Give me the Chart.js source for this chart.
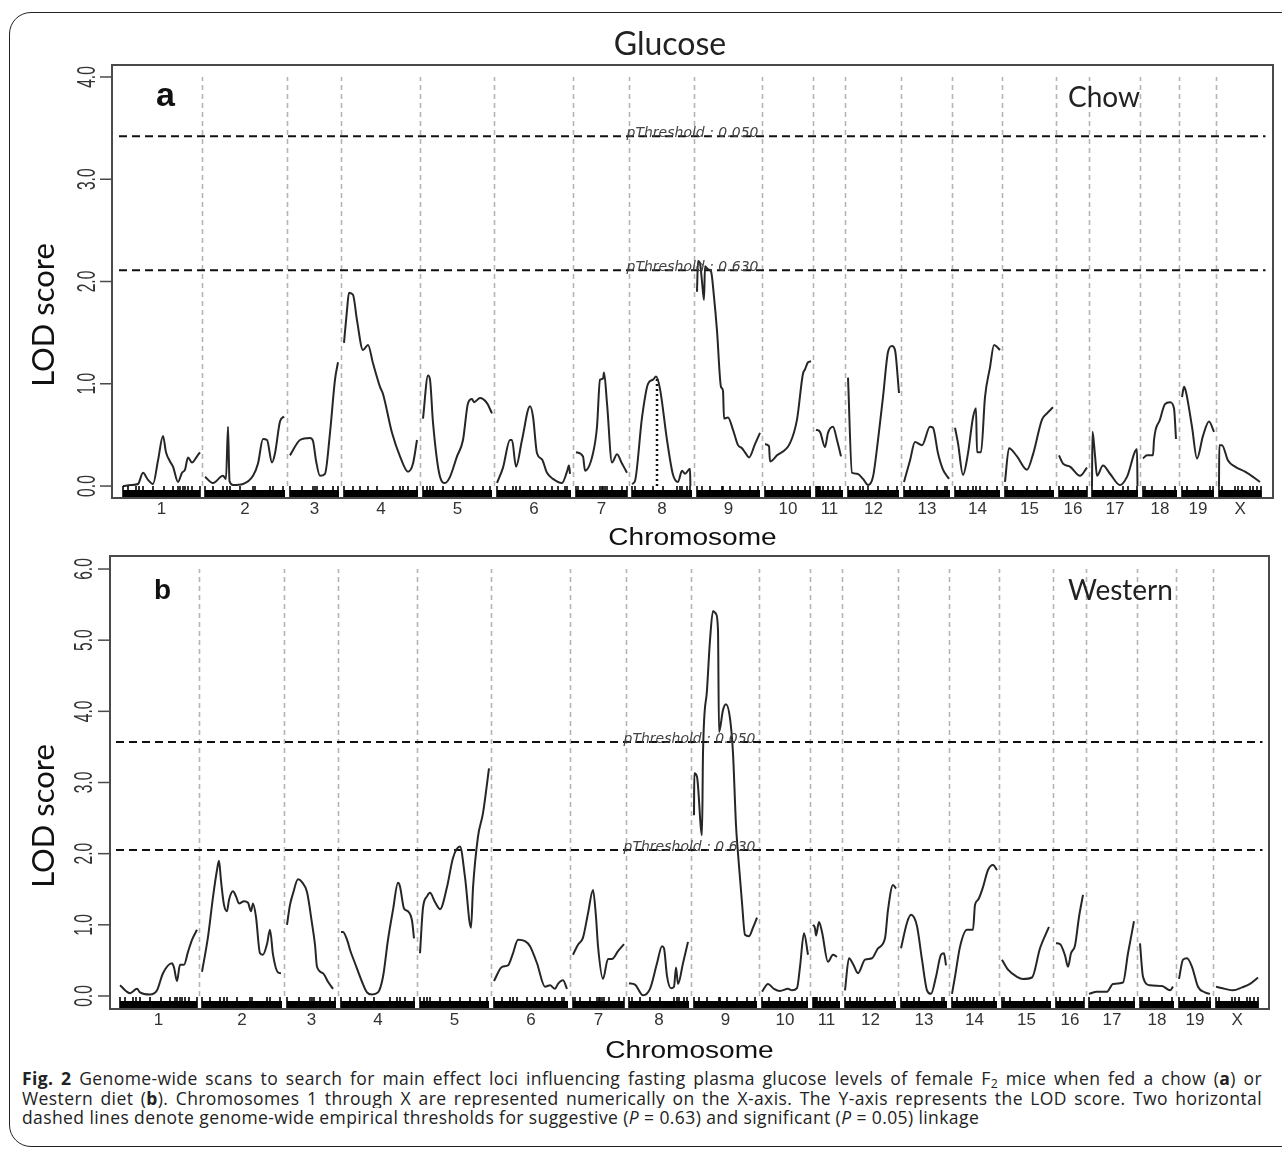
<!DOCTYPE html>
<html>
<head>
<meta charset="utf-8">
<script src="https://cdn.jsdelivr.net/npm/chart.js@4.4.1/dist/chart.umd.min.js"></script>
<style>
  html, body { margin: 0; padding: 0; background: #fff; }
  body { width: 1282px; height: 1155px; position: relative; overflow: hidden; }
  #frame { position: absolute; left: 9px; top: 12px; width: 1320px; height: 1135px;
           border: 1.5px solid #222; border-radius: 22px; box-sizing: border-box; }
  canvas { position: absolute; left: 0; }
  #scanA { top: 0; }
  #scanB { top: 552px; }
  #caption { position: absolute; left: 22px; top: 1069px; width: 1240px;
             font-family: "Open Sans", "Noto Sans", sans-serif; font-size: 17.5px; letter-spacing: 0.4px;
             line-height: 19.5px; color: #222; }
  #caption .ln { white-space: nowrap; }
  #caption .j { white-space: normal; text-align: justify; text-align-last: justify; height: 19.5px; overflow: hidden; }
  #caption sub { font-size: 70%; line-height: 0; vertical-align: -3px; }
</style>
</head>
<body>
<div id="frame"></div>
<canvas id="scanA" width="1282" height="552"></canvas>
<canvas id="scanB" width="1282" height="514"></canvas>
<div id="caption">
  <div class="ln j"><b>Fig. 2</b> Genome-wide scans to search for main effect loci influencing fasting plasma glucose levels of female F<sub>2</sub> mice when fed a chow (<b>a</b>) or</div>
  <div class="ln j">Western diet (<b>b</b>). Chromosomes 1 through X are represented numerically on the X-axis. The Y-axis represents the LOD score. Two horizontal</div>
  <div class="ln">dashed lines denote genome-wide empirical thresholds for suggestive (<i>P</i> = 0.63) and significant (<i>P</i> = 0.05) linkage</div>
</div>
<script>
// chromosome map (cM), chromosomes laid end to end with a small gap
const chrNames = ['1','2','3','4','5','6','7','8','9','10','11','12','13','14','15','16','17','18','19','X'];
const chrLengths = [77, 80, 49, 74, 69, 74, 51, 60, 63, 46, 27, 51, 46, 45, 49, 28, 46, 34, 32, 42.5];
const chrGap = 5;

// marker positions per chromosome (cM from chromosome start)
const markerPos = [
  [0,5,13,16,20,30,41,50,55,57,60,62,65,69,77],
  [0,8,18,22,25,35,48,50,65,68,78],
  [0,12,23,25,27,33,43,48],
  [0,9,16,24,33,49,56,59,64,73],
  [0,4,7,10,20,30,40,50,60,67],
  [0,8,16,19,23,33,41,48,55,61,68,70],
  [0,2,7,17,24,26,27,29,31,36,46,51],
  [0,3,11,21,31,45,48,50,55,58],
  [0,5,13,25,26,33,43,53,61],
  [0,7,18,27,33,40,45],
  [0,1,2,3,4,7,12,17,24],
  [0,5,12,15,20,30,40,49],
  [0,6,13,18,33,41,43],
  [0,5,13,18,21,25,32,42],
  [0,2,8,22,32,45],
  [0,4,14,19,28],
  [0,11,21,31,36,45],
  [0,2,9,22,32],
  [0,5,16,28,31],
  [0,3,16,19,23,31,34,38,42]
];

// LOD profiles, [cM, LOD] per chromosome — chow diet
const chowLod = [
  [[0,0.0],[8,0.01],[15,0.02],[20,0.13],[25,0.06],[30,0.02],[35,0.25],[40,0.49],[43,0.33],[47,0.24],[50,0.19],[55,0.04],[59,0.13],[62,0.16],[65,0.28],[69,0.23],[74,0.29],[77,0.33]],
  [[0,0.09],[8,0.03],[18,0.1],[21,0.07],[23,0.58],[24.5,0.05],[28,0.01],[38,0.02],[48,0.1],[53,0.22],[58,0.46],[62,0.45],[67,0.23],[70,0.32],[75,0.63],[79,0.68]],
  [[0,0.3],[10,0.45],[20,0.47],[23,0.44],[26,0.25],[30,0.1],[35,0.12],[40,0.52],[45,1.04],[48,1.21]],
  [[0,1.4],[3,1.72],[5,1.89],[9,1.87],[13,1.62],[19,1.33],[24,1.38],[29,1.2],[36,0.97],[39,0.9],[48,0.52],[56,0.29],[64,0.14],[69,0.22],[73,0.45]],
  [[0,0.66],[5,1.08],[7,1.04],[10,0.62],[17,0.09],[22,0.03],[27,0.09],[34,0.29],[40,0.45],[45,0.81],[49,0.85],[51,0.82],[57,0.86],[64,0.81],[69,0.71]],
  [[0,0.03],[6,0.18],[13,0.45],[15,0.45],[19,0.19],[25,0.45],[33,0.78],[36,0.68],[40,0.32],[45,0.26],[50,0.13],[56,0.07],[65,0.03],[70,0.14],[72,0.2],[73,0.12]],
  [[0,0.33],[7,0.29],[9,0.15],[17,0.32],[21,0.58],[24,1.04],[27,1.05],[28,1.11],[31,0.81],[36,0.23],[41,0.31],[46,0.22],[51,0.13]],
  [[0,0.02],[3,0.05],[10,0.67],[16,1.0],[21,1.04],[24,1.07],[28,0.95],[35,0.45],[41,0.11],[46,0.04],[50,0.15],[53,0.12],[58,0.17],[58.4,0.0]],
  [[0,1.9],[1,2.2],[3,2.18],[5,2.0],[7,1.82],[8,2.15],[11,2.12],[14,2.1],[17,1.85],[20,1.52],[24,0.97],[26,0.93],[27,0.66],[31,0.67],[36,0.55],[41,0.4],[45,0.37],[48,0.33],[52,0.28],[58,0.41],[63,0.52]],
  [[0,0.41],[4,0.39],[5,0.24],[12,0.3],[25,0.42],[32,0.65],[38,1.1],[40,1.14],[43,1.21],[46,1.22]],
  [[0,0.55],[4,0.53],[9,0.38],[12,0.52],[17,0.58],[21,0.45],[25,0.29]],
  [[0,1.06],[4,0.13],[9,0.12],[15,0.07],[20,0.01],[25,0.09],[30,0.45],[35,0.87],[40,1.31],[44,1.37],[47,1.33],[51,0.91]],
  [[0,0.04],[6,0.25],[11,0.43],[18,0.4],[26,0.58],[29,0.57],[34,0.32],[39,0.16],[45,0.07]],
  [[0,0.57],[3,0.42],[8,0.11],[13,0.32],[18,0.67],[21,0.76],[22,0.33],[26,0.33],[30,0.87],[35,1.16],[39,1.38],[42,1.36],[45,1.33]],
  [[0,0.04],[4,0.37],[12,0.29],[22,0.16],[28,0.31],[37,0.65],[42,0.71],[48,0.77]],
  [[0,0.3],[4,0.22],[11,0.19],[21,0.1],[28,0.18]],
  [[0,0.0],[0.5,0.53],[3,0.3],[5,0.1],[11,0.2],[18,0.12],[28,0.01],[35,0.09],[45,0.36],[45.5,0.0]],
  [[0,0.27],[4,0.3],[10,0.3],[11,0.45],[17,0.65],[22,0.8],[27,0.82],[31,0.76],[33,0.46]],
  [[0,0.87],[2,0.97],[4,0.92],[10,0.58],[15,0.27],[21,0.49],[27,0.63],[32,0.53]],
  [[0,0.0],[0.3,0.4],[3,0.4],[9,0.25],[16,0.19],[26,0.14],[34,0.09],[41,0.04]]
];

// LOD profiles — Western diet
const westernLod = [
  [[0,0.15],[10,0.04],[17,0.1],[20,0.05],[30,0.02],[37,0.08],[43,0.32],[52,0.46],[54,0.4],[57,0.21],[60,0.44],[64,0.44],[68,0.62],[72,0.79],[77,0.93]],
  [[0,0.34],[6,0.83],[11,1.39],[15,1.77],[17,1.9],[19,1.62],[22,1.28],[25,1.19],[27,1.35],[31,1.47],[34,1.4],[37,1.3],[42,1.33],[46,1.31],[49,1.19],[51,1.3],[54,1.11],[58,0.6],[61,0.58],[65,0.73],[68,0.93],[71,0.58],[76,0.33],[79,0.32]],
  [[0,1.0],[3,1.28],[6,1.44],[11,1.64],[15,1.6],[20,1.46],[25,1.02],[28,0.72],[30,0.41],[36,0.32],[41,0.2],[46,0.1]],
  [[0,0.9],[2,0.9],[7,0.75],[9,0.65],[14,0.46],[21,0.2],[26,0.05],[31,0.02],[37,0.05],[42,0.27],[47,0.79],[52,1.21],[57,1.59],[59,1.54],[63,1.23],[67,1.19],[71,1.06],[73,0.81]],
  [[0,0.6],[3,1.24],[7,1.4],[10,1.45],[15,1.32],[20,1.22],[27,1.53],[33,1.94],[40,2.1],[45,1.67],[51,0.96],[53,1.52],[58,2.24],[63,2.57],[69,3.2]],
  [[0,0.21],[8,0.41],[14,0.43],[19,0.6],[24,0.79],[31,0.77],[36,0.7],[43,0.46],[51,0.13],[56,0.15],[61,0.1],[64,0.17],[69,0.22],[73,0.1]],
  [[0,0.58],[5,0.72],[10,0.82],[15,1.16],[20,1.49],[23,1.11],[25,0.7],[30,0.24],[35,0.52],[39,0.52],[45,0.63],[51,0.73]],
  [[0,0.18],[6,0.16],[14,0.01],[21,0.1],[28,0.46],[33,0.7],[35,0.67],[38,0.28],[42,0.11],[45,0.13],[47,0.4],[49,0.17],[54,0.46],[59,0.76]],
  [[0,2.54],[0.3,3.13],[3,3.08],[8,2.26],[9,3.41],[13,4.3],[16,5.0],[19,5.41],[22,5.37],[24,5.14],[25,3.71],[29,4.02],[32,4.1],[36,3.9],[39,3.41],[42,2.4],[44,2.0],[48,1.31],[51,0.86],[55,0.84],[59,0.96],[63,1.1]],
  [[0,0.06],[6,0.17],[12,0.1],[18,0.07],[26,0.1],[30,0.08],[35,0.11],[38,0.41],[42,0.88],[46,0.58]],
  [[0,1.0],[2,0.95],[3,0.85],[6,1.04],[9,0.9],[15,0.48],[20,0.58],[24,0.55]],
  [[0,0.08],[4,0.53],[8,0.45],[13,0.32],[20,0.51],[27,0.53],[33,0.67],[40,0.81],[43,1.21],[48,1.56],[51,1.51]],
  [[0,0.67],[6,1.03],[10,1.14],[16,0.98],[21,0.51],[26,0.08],[30,0.03],[35,0.27],[40,0.58],[43,0.6],[45,0.43]],
  [[0,0.03],[3,0.27],[8,0.69],[15,0.93],[21,0.93],[23,1.28],[26,1.35],[31,1.53],[36,1.77],[41,1.84],[45,1.77]],
  [[0,0.51],[6,0.37],[15,0.27],[21,0.24],[30,0.26],[38,0.67],[47,0.97]],
  [[0,0.74],[4,0.73],[9,0.57],[12,0.41],[15,0.6],[19,0.71],[23,1.11],[27,1.42]],
  [[0,0.03],[8,0.06],[18,0.06],[24,0.17],[34,0.19],[39,0.6],[45,1.05]],
  [[0,0.74],[3,0.27],[10,0.15],[22,0.14],[30,0.08],[33,0.13]],
  [[0,0.24],[4,0.51],[8,0.53],[13,0.41],[19,0.13],[26,0.05],[31,0.03]],
  [[0,0.13],[9,0.1],[17,0.08],[26,0.12],[34,0.17],[42,0.26]]
];

const chowYTicks = [0, 1, 2, 3, 4];
const westernYTicks = [0, 1, 2, 3, 4, 5, 6];
// [LOD, label] for the genome-wide thresholds
const chowThresholds = [[3.42, 'pThreshold : 0.050'], [2.11, 'pThreshold : 0.630']];
const westernThresholds = [[3.57, 'pThreshold : 0.050'], [2.05, 'pThreshold : 0.630']];
// chromosome index, cM, LOD of the chow chr 8 peak drop line
const chowPeakLine = [7, 25, 1.06];

const chrStart = [];
chrLengths.reduce((acc, len) => { chrStart.push(acc); return acc + len + chrGap; }, 0);
const genomeEnd = chrStart[chrStart.length - 1] + chrLengths[chrLengths.length - 1];

function scanPoints(scan) {
  const pts = [];
  scan.forEach((chr, i) => {
    chr.forEach(([pos, lod]) => pts.push({ x: chrStart[i] + pos, y: lod }));
    pts.push({ x: chrStart[i] + chrLengths[i] + chrGap / 2, y: null });
  });
  return pts;
}

function boundaryPoints(top) {
  const pts = [];
  for (let i = 1; i < chrStart.length; i++) {
    const b = chrStart[i] - chrGap / 2;
    pts.push({ x: b, y: 0 }, { x: b, y: top }, { x: b, y: null });
  }
  return pts;
}

function thresholdPoints(list) {
  const pts = [];
  list.forEach(([v]) => pts.push({ x: -4, y: v }, { x: genomeEnd + 4, y: v }, { x: genomeEnd + 4, y: null }));
  return pts;
}

// frame, marker rug, rotated y labels and panel texts
const scanDecor = {
  id: 'scanDecor',
  afterDatasetsDraw(chart, args, o) {
    const { ctx, chartArea: a, scales: { x, y } } = chart;
    ctx.save();

    // marker rug
    ctx.fillStyle = '#000';
    ctx.strokeStyle = '#000';
    ctx.lineWidth = 1.6;
    markerPos.forEach((list, i) => {
      const x0 = x.getPixelForValue(chrStart[i]);
      const x1 = x.getPixelForValue(chrStart[i] + chrLengths[i]);
      ctx.fillRect(x0, a.bottom - 8, x1 - x0, 8);
      list.forEach(p => {
        const px = x.getPixelForValue(chrStart[i] + p);
        ctx.beginPath();
        ctx.moveTo(px, a.bottom);
        ctx.lineTo(px, a.bottom - 12);
        ctx.stroke();
      });
    });

    // threshold labels
    ctx.fillStyle = '#444';
    ctx.font = 'italic 14px "DejaVu Sans"';
    ctx.textAlign = 'center';
    ctx.textBaseline = 'alphabetic';
    o.thresholds.forEach(([v, label]) => {
      ctx.fillText(label, (a.left + a.right) / 2, y.getPixelForValue(v) + 1);
    });

    // plot frame
    ctx.strokeStyle = '#4a4a4a';
    ctx.lineWidth = 2;
    ctx.strokeRect(a.left, a.top, a.width, a.height);

    // y ticks with narrow rotated labels
    ctx.lineWidth = 1.5;
    ctx.fillStyle = '#333';
    ctx.font = '26px "Liberation Sans", Arial';
    o.yTicks.forEach(v => {
      const py = y.getPixelForValue(v);
      ctx.beginPath();
      ctx.moveTo(a.left - 12, py);
      ctx.lineTo(a.left, py);
      ctx.stroke();
      ctx.save();
      ctx.translate(o.tickLabelX, py);
      ctx.rotate(-Math.PI / 2);
      ctx.scale(0.6, 1);
      ctx.textAlign = 'center';
      ctx.fillText(v.toFixed(1), 0, 9.3);
      ctx.restore();
    });

    // axis titles
    ctx.fillStyle = '#111';
    ctx.save();
    ctx.translate(44, o.yTitleY);
    ctx.rotate(-Math.PI / 2);
    ctx.font = '31px Lato';
    ctx.textAlign = 'center';
    ctx.textBaseline = 'middle';
    ctx.fillText('LOD score', 0, 0);
    ctx.restore();

    ctx.save();
    ctx.translate((a.left + a.right) / 2, a.bottom + o.xTitleDy);
    ctx.scale(1.22, 1);
    ctx.font = '23px "Liberation Sans", Arial';
    ctx.textAlign = 'center';
    ctx.fillText('Chromosome', 0, 0);
    ctx.restore();

    // panel letter and diet
    ctx.textAlign = 'left';
    ctx.font = 'bold ' + o.letterSize + 'px "Liberation Sans", Arial';
    ctx.fillText(o.letter, a.left + 44, a.top + o.letterDy);
    ctx.font = '28px Lato';
    ctx.fillStyle = '#222';
    ctx.fillText(o.diet, 1068, a.top + o.letterDy + 1);
    if (o.title) {
      ctx.font = '32px Lato';
      ctx.textAlign = 'center';
      ctx.fillText(o.title, 670, 54.5);
    }
    ctx.restore();
  }
};

function drawPanel(id, p) {
  const datasets = [
    { data: scanPoints(p.scan), borderColor: '#262626', borderWidth: 2, pointRadius: 0,
      cubicInterpolationMode: 'monotone' },
    { data: thresholdPoints(p.thresholds), borderColor: '#111', borderWidth: 2,
      borderDash: [8, 5], pointRadius: 0 }
  ];
  if (p.peakLine) {
    const [ci, pos, lod] = p.peakLine;
    datasets.push({ data: [{ x: chrStart[ci] + pos, y: 0 }, { x: chrStart[ci] + pos, y: lod }],
      borderColor: '#111', borderWidth: 2.5, borderDash: [2, 3], pointRadius: 0 });
  }
  datasets.push({ data: boundaryPoints(p.yTicks[p.yTicks.length - 1]), borderColor: '#b4b4b4',
    borderWidth: 1.6, borderDash: [5, 4], pointRadius: 0 });

  return new Chart(document.getElementById(id), {
    type: 'line',
    data: { datasets },
    options: {
      responsive: false,
      animation: false,
      devicePixelRatio: 1,
      layout: { padding: { left: 0, top: p.padTop, right: p.padRight, bottom: 0 } },
      plugins: {
        legend: { display: false },
        tooltip: { enabled: false },
        scanDecor: p.decor
      },
      scales: {
        x: {
          type: 'linear', min: p.xMin, max: p.xMax,
          grid: { display: false, drawTicks: false }, border: { display: false },
          afterBuildTicks: s => { s.ticks = chrStart.map((st, i) => ({ value: st + chrLengths[i] / 2 })); },
          afterFit: s => { s.height = p.xAxisHeight; },
          ticks: { autoSkip: false, maxRotation: 0, minRotation: 0, padding: 1, color: '#333',
                   font: { family: '"Liberation Sans", Arial', size: 17 },
                   callback: (v, i) => chrNames[i] }
        },
        y: {
          min: p.yMin, max: p.yMax,
          grid: { display: false, drawTicks: false }, border: { display: false },
          ticks: { display: false },
          afterFit: s => { s.width = p.left; }
        }
      }
    },
    plugins: [scanDecor]
  });
}

drawPanel('scanA', {
  scan: chowLod, thresholds: chowThresholds, yTicks: chowYTicks, peakLine: chowPeakLine,
  xMin: -11, xMax: 1150, yMin: -0.117, yMax: 4.117,
  left: 112, padTop: 65, padRight: 9, xAxisHeight: 54,
  decor: { thresholds: chowThresholds, yTicks: chowYTicks, tickLabelX: 86, yTitleY: 315,
           xTitleDy: 47, letter: 'a', letterSize: 34, letterDy: 41, diet: 'Chow', title: 'Glucose' }
});

drawPanel('scanB', {
  scan: westernLod, thresholds: westernThresholds, yTicks: westernYTicks,
  xMin: -10, xMax: 1149, yMin: -0.183, yMax: 6.183,
  left: 110, padTop: 4, padRight: 13, xAxisHeight: 57,
  decor: { thresholds: westernThresholds, yTicks: westernYTicks, tickLabelX: 83, yTitleY: 264,
           xTitleDy: 49, letter: 'b', letterSize: 28, letterDy: 43, diet: 'Western' }
});
</script>
</body>
</html>
